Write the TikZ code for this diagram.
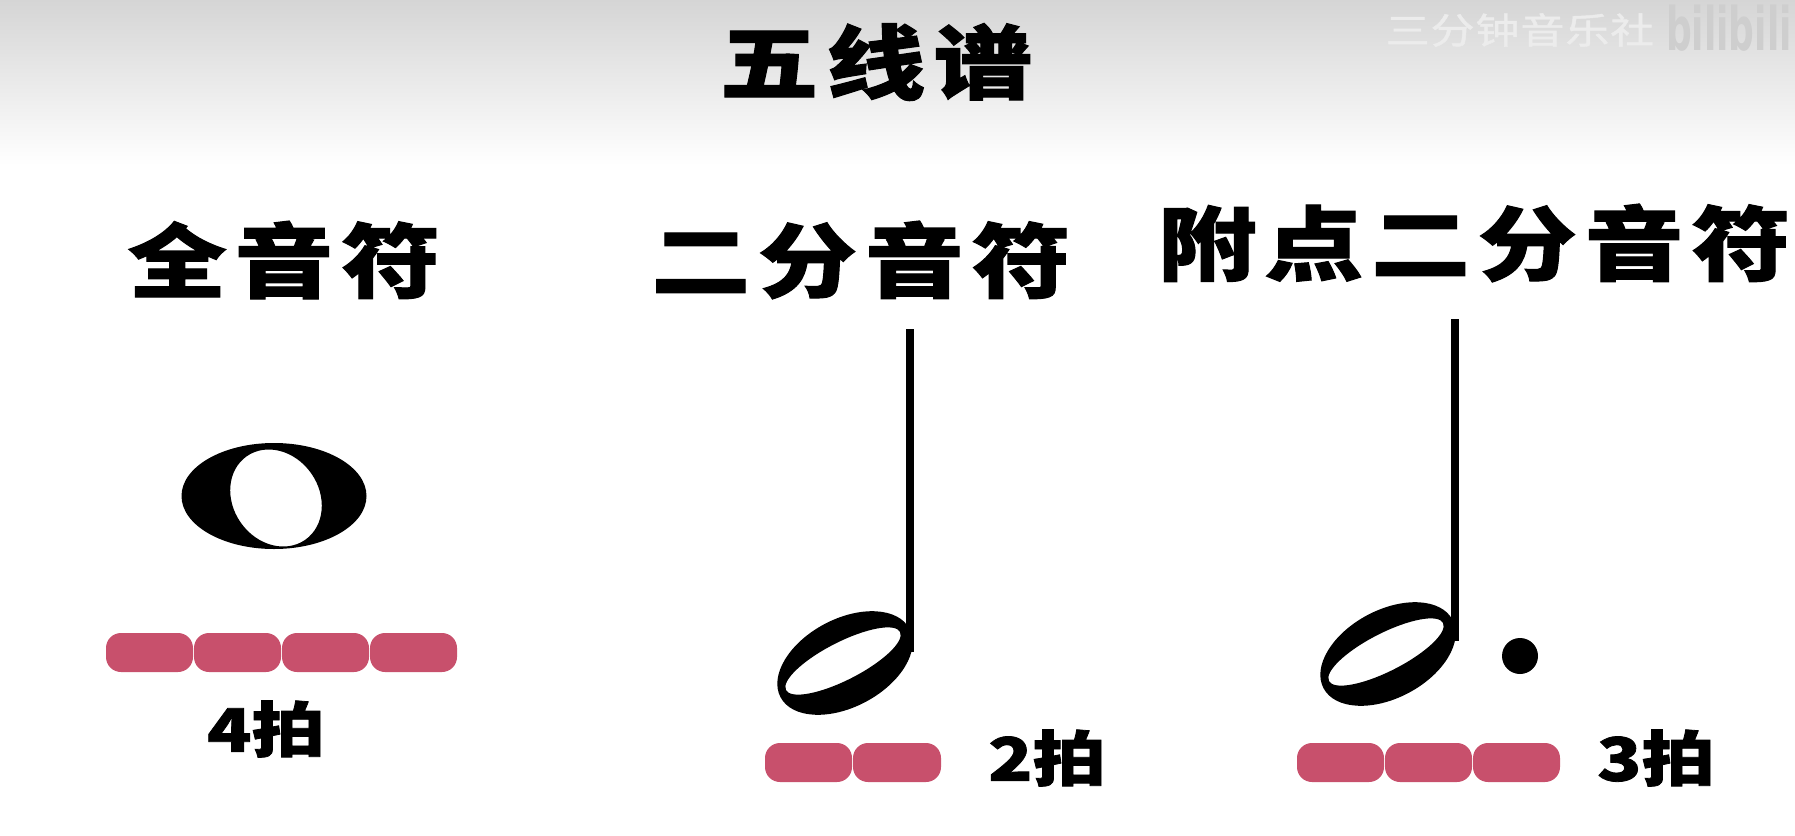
\documentclass[tikz,border=0pt]{standalone}
\usepackage{fontspec}
\newfontfamily\cjk{Noto Sans CJK SC}[FakeStretch=1.22, FakeBold=1.3]
\newfontfamily\wmfont{DejaVu Sans}
\definecolor{pillred}{RGB}{200,80,108}
\definecolor{bgtop}{RGB}{213,213,213}
\definecolor{wmtext}{RGB}{236,236,236}
\definecolor{wmlogo}{RGB}{206,206,206}
\tikzset{
  pill/.style={fill=pillred, rounded corners=15pt},
  heading/.style={inner sep=0pt, font=\cjk\bfseries\fontsize{81}{81}\selectfont},
  beats/.style={inner sep=0pt, font=\cjk\bfseries\fontsize{60}{60}\selectfont},
  notefill/.style={fill=black, even odd rule},
}
\newcommand{\gp}{\kern8pt}
\begin{document}
\begin{tikzpicture}[x=1pt,y=-1pt]
\useasboundingbox (0,0) rectangle (1795,835);
\fill[white] (0,0) rectangle (1795,835);
\shade[top color=bgtop, bottom color=white] (0,0) rectangle (1795,165);
% watermark
\node[inner sep=0pt, text=wmtext, font=\cjk\fontsize{36}{36}\selectfont] (wm) at (1520,30) {三\kern1pt 分\kern1pt 钟\kern1pt 音\kern1pt 乐\kern1pt 社};
\node[inner sep=0pt, anchor=west, text=wmlogo, xscale=0.6, font=\wmfont\bfseries\fontsize{60}{60}\selectfont] (logo) at (1666,28) {bilibili};
% title
\node[heading] (title) at (876,62) {五\gp 线\gp 谱};
% headings
\node[heading] (whole) at (284,260) {全\gp 音\gp 符};
\node[heading] (half) at (861,260) {二\gp 分\gp 音\gp 符};
\node[heading] (dotted) at (1474,243) {附\gp 点\gp 二\gp 分\gp 音\gp 符};
% whole note
\fill[notefill] (274,496) ellipse[x radius=92.5pt, y radius=53pt]
  (276,498) ellipse[x radius=43pt, y radius=51pt, rotate=35];
% half note
\fill[notefill] (845,663) ellipse[x radius=73pt, y radius=44pt, rotate=28]
  (843,661) ellipse[x radius=64pt, y radius=19pt, rotate=27];
\fill (906,329) rectangle (914,652);
% dotted half note
\fill[notefill] (1388,654) ellipse[x radius=73pt, y radius=44pt, rotate=28]
  (1386,652) ellipse[x radius=64pt, y radius=19pt, rotate=27];
\fill (1451,319) rectangle (1459,641);
\fill (1520,656) circle[radius=18pt];
% beat pills
\fill[pill] (106,633) rectangle (193,672);
\fill[pill] (194,633) rectangle (281,672);
\fill[pill] (282,633) rectangle (369,672);
\fill[pill] (370,633) rectangle (457,672);
\fill[pill] (765,743) rectangle (852,782);
\fill[pill] (853,743) rectangle (941,782);
\fill[pill] (1297,743) rectangle (1384,782);
\fill[pill] (1385,743) rectangle (1472,782);
\fill[pill] (1473,743) rectangle (1560,782);
% beat labels
\node[beats] (b4) at (266,729) {4拍};
\node[beats] (b2) at (1047,758) {2拍};
\node[beats] (b3) at (1656,758) {3拍};
\end{tikzpicture}
\end{document}
